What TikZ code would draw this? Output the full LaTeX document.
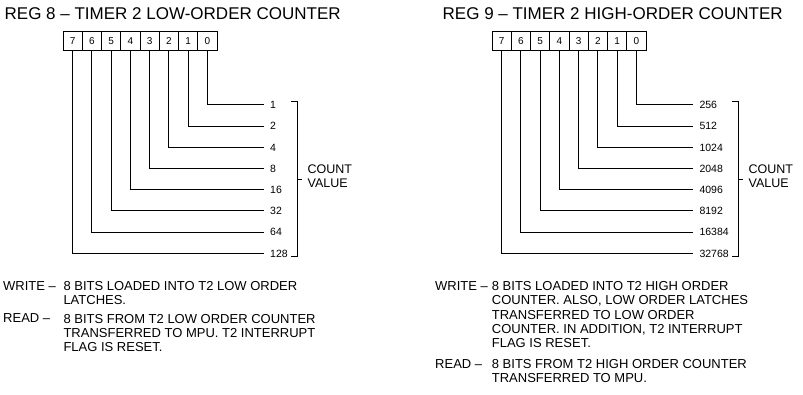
\documentclass[tikz,border=0pt]{standalone}
\usepackage{fontspec}
\setmainfont{Liberation Sans}
\usetikzlibrary{positioning, calc}

\tikzset{
  regtitle/.style={anchor=base west, inner sep=0pt,
                   font=\fontsize{17}{19}\selectfont},
  bitcell/.style={draw, line width=0.9pt, minimum width=19.25pt,
                  minimum height=19pt, inner sep=0pt,
                  font=\fontsize{10}{12}\selectfont},
  bitval/.style={anchor=west, inner xsep=6pt, inner ysep=0pt, yshift=-1pt,
                 font=\fontsize{10.5}{12}\selectfont},
  % multi-line text: the base anchor sits on the last line
  desc/.style={anchor=base west, inner sep=0pt, align=left,
               font=\fontsize{13}{14.4}\selectfont},
  countlbl/.style={anchor=west, inner sep=0pt, align=left,
                   font=\fontsize{12.5}{13.5}\selectfont},
  wire/.style={line width=1pt}
}

\begin{document}
\begin{tikzpicture}[x=1pt, y=-1pt]
  \useasboundingbox (0,0) rectangle (803,395);

  % REG 8: low-order counter
  \node[regtitle] (ltitle) at (4.5,19.5) {REG 8 -- TIMER 2 LOW-ORDER COUNTER};
  \foreach \b/\val in {0/1, 1/2, 2/4, 3/8, 4/16, 5/32, 6/64, 7/128} {
    \node[bitcell] (lc\b) at ({63+(7-\b)*19.25+9.625},41) {\b};
    \node[bitval] (lv\b) at (264,{104+21.2*\b}) {\val};
    \draw[wire] (lc\b.south) |- (lv\b.west);
  }
  \coordinate (lbtop) at ([xshift=3.5pt,yshift=3pt]lv7.east |- lv0.west);
  \coordinate (lbbot) at ([xshift=3.5pt,yshift=-3pt]lv7.east);
  \draw[wire] ([xshift=-6pt]lbtop) -- (lbtop) -- (lbbot) -- ([xshift=-6pt]lbbot);
  \coordinate (lbmid) at ($(lbtop)!0.5!(lbbot)$);
  \draw[wire] (lbmid) -- ++(5,0);
  \node[countlbl] (lcount) at ([xshift=10pt,yshift=3pt]lbmid) {COUNT\\VALUE};

  \node[desc] (lwr) at (3,290.3) {WRITE --};
  \node[desc] (lwrtxt) at (63.3,304.7) {8 BITS LOADED INTO T2 LOW ORDER\\LATCHES.};
  \node[desc] (lrd) at (3,323) {READ --};
  \node[desc] (lrdtxt) at (63.3,351.8)
    {8 BITS FROM T2 LOW ORDER COUNTER\\TRANSFERRED TO MPU. T2 INTERRUPT\\FLAG IS RESET.};

  % REG 9: high-order counter
  \node[regtitle] (htitle) at (442.5,19.5) {REG 9 -- TIMER 2 HIGH-ORDER COUNTER};
  \foreach \b/\val in {0/256, 1/512, 2/1024, 3/2048, 4/4096, 5/8192,
                       6/16384, 7/32768} {
    \node[bitcell] (hc\b) at ({492+(7-\b)*19.25+9.625},41) {\b};
    \node[bitval] (hv\b) at (693.3,{104+21.2*\b}) {\val};
    \draw[wire] (hc\b.south) |- (hv\b.west);
  }
  \coordinate (hbtop) at ([xshift=3.5pt,yshift=3pt]hv7.east |- hv0.west);
  \coordinate (hbbot) at ([xshift=3.5pt,yshift=-3pt]hv7.east);
  \draw[wire] ([xshift=-6pt]hbtop) -- (hbtop) -- (hbbot) -- ([xshift=-6pt]hbbot);
  \coordinate (hbmid) at ($(hbtop)!0.5!(hbbot)$);
  \draw[wire] (hbmid) -- ++(5,0);
  \node[countlbl] (hcount) at ([xshift=10pt,yshift=3pt]hbmid) {COUNT\\VALUE};

  \node[desc] (hwr) at (435,290.3) {WRITE --};
  \node[desc] (hwrtxt) at (491.7,347.9)
    {8 BITS LOADED INTO T2 HIGH ORDER\\COUNTER. ALSO, LOW ORDER LATCHES\\TRANSFERRED TO LOW ORDER\\COUNTER. IN ADDITION, T2 INTERRUPT\\FLAG IS RESET.};
  \node[desc] (hrd) at (435,368) {READ --};
  \node[desc] (hrdtxt) at (491.7,382.4)
    {8 BITS FROM T2 HIGH ORDER COUNTER\\TRANSFERRED TO MPU.};
\end{tikzpicture}
\end{document}
